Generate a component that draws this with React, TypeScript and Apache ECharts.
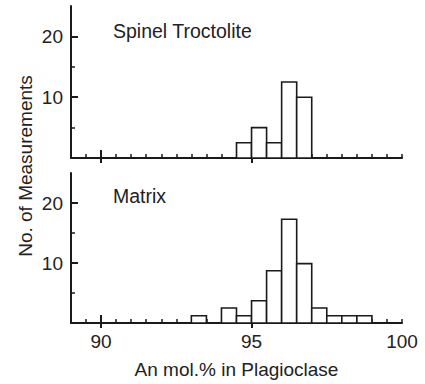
import React, { useEffect, useRef } from "react";
import * as echarts from "echarts";

// Histogram data (bin width 0.5 An mol.%)
const binWidth = 0.5;
const spinelBinStarts = [94.5, 95, 95.5, 96, 96.5];
const spinelCounts = [2.5, 5, 2.5, 12.5, 10];
const matrixBinStarts = [93, 94, 94.5, 95, 95.5, 96, 96.5, 97, 97.5, 98, 98.5];
const matrixCounts = [1.2, 2.5, 1.2, 3.7, 8.7, 17.3, 9.9, 2.5, 1.2, 1.2, 1.2];

// Tick / label values
const xMajorTicks = [90, 95];
const xLabels = [90, 95, 100];
const xMinorTicks = [89.5, 90.5, 91, 91.5, 92, 92.5, 93, 93.5, 94, 94.5, 95.5, 96, 96.5, 97, 97.5, 98, 98.5, 99, 99.5, 100];
const yMajorTicks = [10, 20];
const yMinorTicks = [5, 15];

const panelNames = ["Spinel Troctolite", "Matrix"];
const xTitle = "An mol.% in Plagioclase";
const yTitle = "No. of Measurements";

const FONT = "'Liberation Sans', Arial, Helvetica, sans-serif";
const TEXT = "#222";
const LINE = "#1a1a1a";

export default function App() {
  const ref = useRef<HTMLDivElement>(null);

  useEffect(() => {
    if (!ref.current) return;
    const chart = echarts.init(ref.current, null, { renderer: "svg" });

    const grids = [
      { left: 71, width: 331, top: 6, height: 152 },
      { left: 71, width: 331, top: 173, height: 150 },
    ];

    const xAxes: any[] = [];
    const yAxes: any[] = [];
    grids.forEach((_, g) => {
      // main x axis (line + minor inward ticks + labels)
      xAxes.push({
        gridIndex: g,
        type: "value",
        position: "bottom",
        min: 89,
        max: 100,
        axisLine: { show: true, onZero: false, lineStyle: { color: LINE, width: 2 } },
        axisTick: { show: true, inside: true, length: 4, customValues: xMinorTicks, lineStyle: { color: LINE, width: 1.5 } },
        axisLabel: g === 1
          ? { show: true, customValues: xLabels, fontSize: 19, color: TEXT, fontFamily: FONT, margin: 9 }
          : { show: false },
        splitLine: { show: false },
        name: g === 1 ? xTitle : "",
        nameLocation: "middle",
        nameGap: 37,
        nameTextStyle: { fontSize: 19, color: TEXT, fontFamily: FONT },
      });
      // major ticks inward
      xAxes.push({
        gridIndex: g,
        type: "value",
        position: "bottom",
        min: 89,
        max: 100,
        axisLine: { show: false, onZero: false },
        axisTick: { show: true, inside: true, length: 8, customValues: xMajorTicks, lineStyle: { color: LINE, width: 2 } },
        axisLabel: { show: false },
        splitLine: { show: false },
      });
      // major ticks outward
      xAxes.push({
        gridIndex: g,
        type: "value",
        position: "bottom",
        min: 89,
        max: 100,
        axisLine: { show: false, onZero: false },
        axisTick: { show: true, inside: false, length: 5, customValues: xMajorTicks, lineStyle: { color: LINE, width: 2 } },
        axisLabel: { show: false },
        splitLine: { show: false },
      });
      // main y axis
      yAxes.push({
        gridIndex: g,
        type: "value",
        position: "left",
        min: 0,
        max: 25,
        axisLine: { show: true, onZero: false, lineStyle: { color: LINE, width: 2 } },
        axisTick: { show: true, inside: true, length: 7, customValues: yMajorTicks, lineStyle: { color: LINE, width: 2 } },
        axisLabel: { show: true, customValues: yMajorTicks, fontSize: 19, color: TEXT, fontFamily: FONT, margin: 8 },
        splitLine: { show: false },
      });
      // minor y ticks
      yAxes.push({
        gridIndex: g,
        type: "value",
        position: "left",
        min: 0,
        max: 25,
        axisLine: { show: false, onZero: false },
        axisTick: { show: true, inside: true, length: 4, customValues: yMinorTicks, lineStyle: { color: LINE, width: 1.5 } },
        axisLabel: { show: false },
        splitLine: { show: false },
      });
    });

    const toData = (starts: number[], counts: number[]) =>
      starts.map((s, i) => [s, s + binWidth, counts[i]]);

    const renderItem = (params: any, api: any) => {
      const x0 = api.value(0);
      const x1 = api.value(1);
      const y = api.value(2);
      const p0 = api.coord([x0, y]);
      const p1 = api.coord([x1, 0]);
      return {
        type: "rect",
        shape: { x: p0[0], y: p0[1], width: p1[0] - p0[0], height: p1[1] - p0[1] },
        style: { fill: "#fff", stroke: LINE, lineWidth: 1.6 },
      };
    };

    const series = [
      {
        type: "custom",
        xAxisIndex: 0,
        yAxisIndex: 0,
        renderItem,
        encode: { x: [0, 1], y: 2 },
        data: toData(spinelBinStarts, spinelCounts),
        z: 1,
      },
      {
        type: "custom",
        xAxisIndex: 3,
        yAxisIndex: 2,
        renderItem,
        encode: { x: [0, 1], y: 2 },
        data: toData(matrixBinStarts, matrixCounts),
        z: 1,
      },
    ];

    chart.setOption({
      animation: false,
      backgroundColor: "#fff",
      grid: grids,
      xAxis: xAxes,
      yAxis: yAxes,
      series,
      graphic: [
        {
          type: "text",
          left: 113,
          top: 21,
          style: { text: panelNames[0], fontSize: 19.5, fill: TEXT, fontFamily: FONT },
        },
        {
          type: "text",
          left: 113,
          top: 186,
          style: { text: panelNames[1], fontSize: 19.5, fill: TEXT, fontFamily: FONT },
        },
        {
          type: "text",
          x: 25,
          y: 166,
          rotation: Math.PI / 2,
          style: {
            text: yTitle,
            fontSize: 19,
            fill: TEXT,
            fontFamily: FONT,
            align: "center",
            verticalAlign: "middle",
          },
        },
      ],
    });

    return () => chart.dispose();
  }, []);

  return (
    <div
      ref={ref}
      style={{ position: "absolute", left: 0, top: 0, width: 425, height: 384 }}
    />
  );
}
